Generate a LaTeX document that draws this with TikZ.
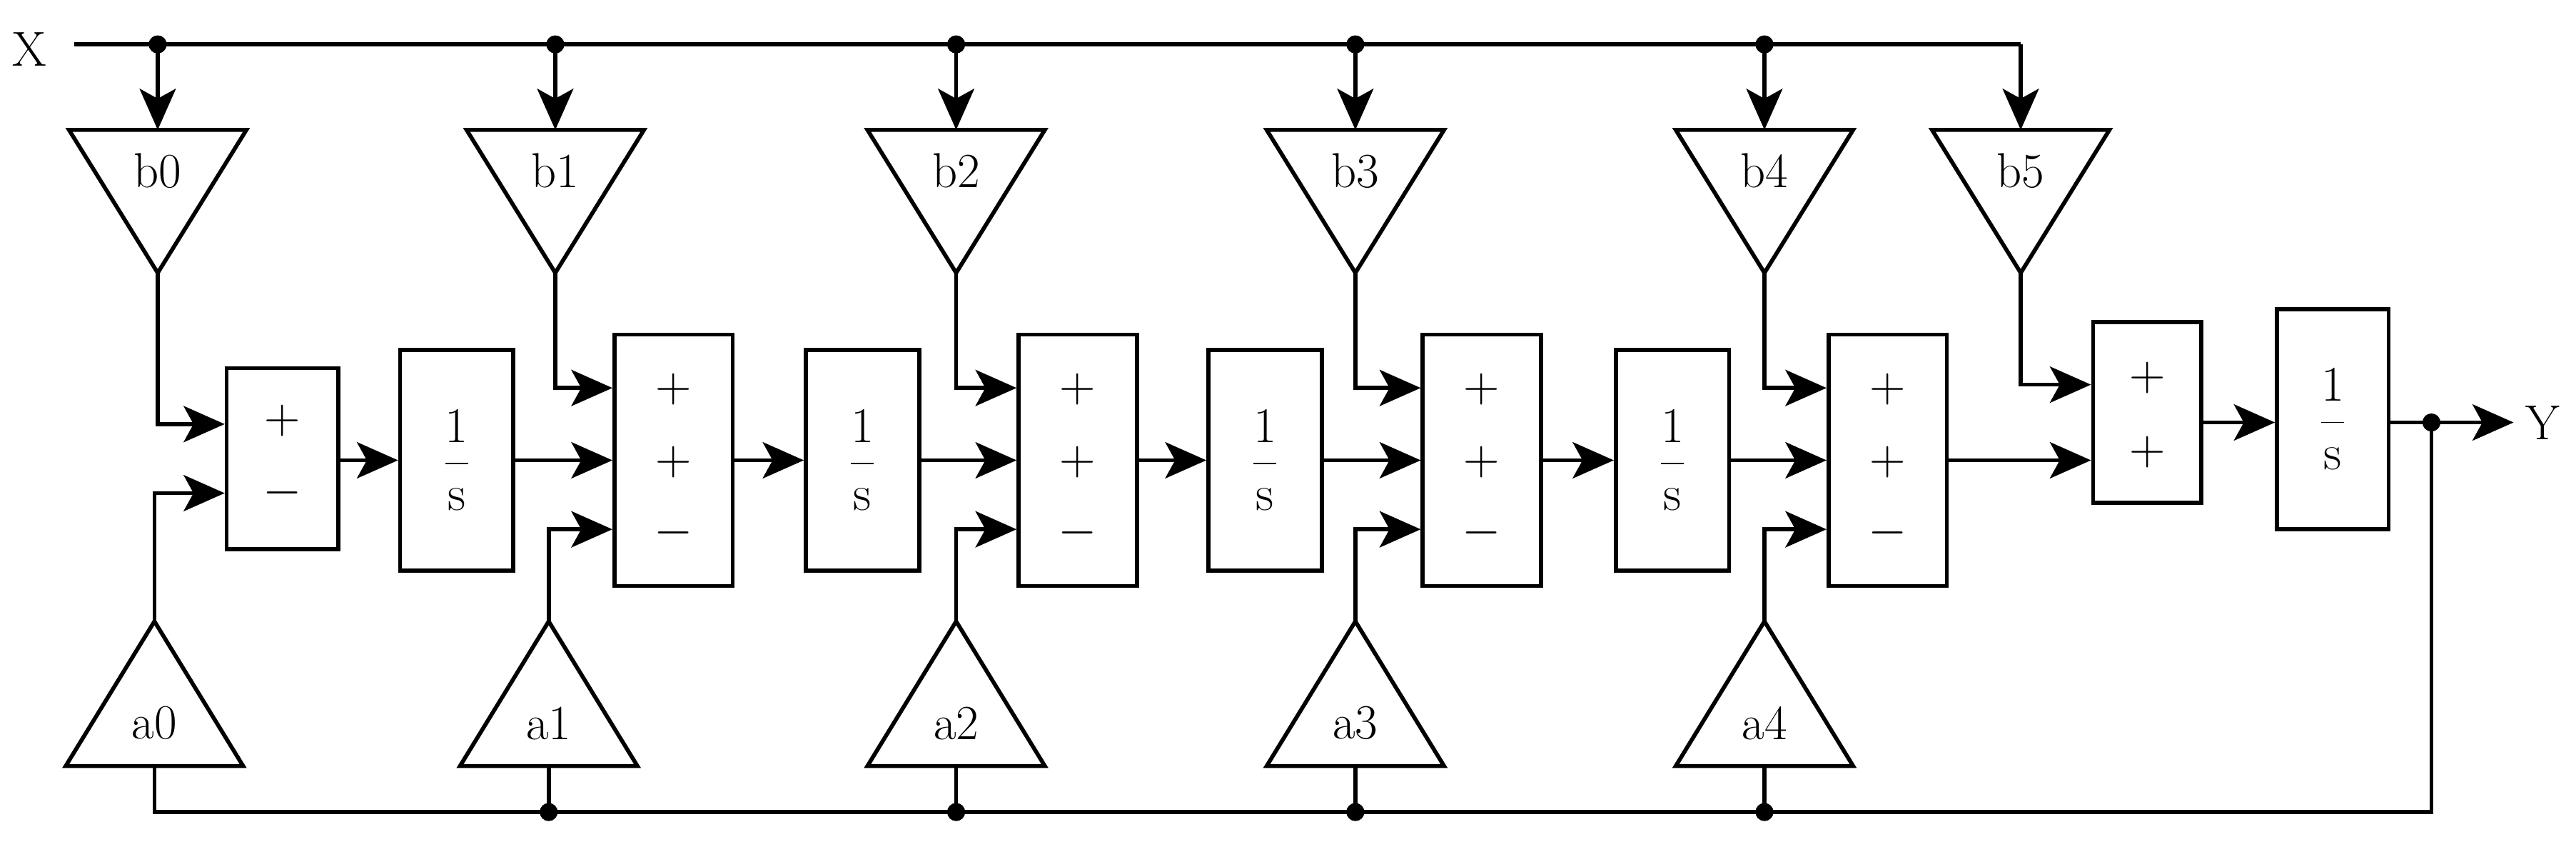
\documentclass[tikz,border=0pt]{standalone}
\usetikzlibrary{arrows.meta}
\begin{document}
\begin{tikzpicture}[x=0.02cm,y=-0.02cm,line width=1.4pt,
  arr/.style={-{Stealth[length=0.5cm,width=0.44cm,inset=0.12cm]}},
  box/.style={draw,inner sep=0pt,font=\fontsize{17}{20}\selectfont},
  lab/.style={font=\fontsize{17}{20}\selectfont,inner sep=0pt},
  dot/.style={circle,fill,inner sep=0pt,minimum size=0.22cm}]
\useasboundingbox (0,0) rectangle (1568,512);
% X line
\node[lab] (X) at (18,30) {X};
\coordinate (xs) at (45,27);
\coordinate (xe) at (1230,27);
\draw (xs) -- (xe);
% b triangles
\foreach \i/\x in {0/96,1/338,2/582,3/825,4/1074,5/1230}{
  \draw (\x-54,79) -- (\x+54,79) -- (\x,166) -- cycle;
  \coordinate (bt\i) at (\x,79);
  \coordinate (ba\i) at (\x,166);
  \coordinate (bx\i) at (\x,27);
  \node[lab] (b\i) at (\x,104) {b\i};
  \draw[arr] (bx\i) -- (bt\i);
}
\foreach \i in {0,...,4}{\node[dot] at (bx\i) {};}
% a triangles
\foreach \i/\x in {0/94,1/334,2/582,3/825,4/1074}{
  \draw (\x-54,466) -- (\x+54,466) -- (\x,378) -- cycle;
  \coordinate (aa\i) at (\x,378);
  \coordinate (ab\i) at (\x,466);
  \coordinate (af\i) at (\x,494);
  \node[lab] (a\i) at (\x,440) {a\i};
}
% sums and integrators
\node[box,minimum width=1.36cm,minimum height=2.2cm] (s1) at (172,279) {};
\node[lab] at (172,256) {$+$};
\node[lab] at (172,300) {$-$};
\foreach \i/\x in {2/410,3/656,4/902,5/1149}{
  \node[box,minimum width=1.44cm,minimum height=3.06cm] (s\i) at (\x,280) {};
  \node[lab] at (\x,237) {$+$};
  \node[lab] at (\x,281) {$+$};
  \node[lab] at (\x,324) {$-$};
}
\node[box,minimum width=1.32cm,minimum height=2.2cm] (s6) at (1307,251) {};
\node[lab] at (1307,230) {$+$};
\node[lab] at (1307,275) {$+$};
\foreach \i/\x in {1/278,2/525,3/770,4/1018}{
  \node[box,minimum width=1.38cm,minimum height=2.68cm] (i\i) at (\x,280) {$\displaystyle\frac{1}{\mathrm{s}}$};
}
\node[box,minimum width=1.36cm,minimum height=2.68cm] (i5) at (1420,255) {$\displaystyle\frac{1}{\mathrm{s}}$};
% main chain
\draw[arr] (s1.east |- 0,280) -- (i1.west |- 0,280);
\foreach \i/\j in {1/2,2/3,3/4,4/5}{
  \draw[arr] (i\i.east) -- (s\j.west |- i\i.east);
}
\foreach \i/\j in {2/2,3/3,4/4}{
  \draw[arr] (s\i.east) -- (i\j.west |- s\i.east);
}
\draw[arr] (s5.east) -- (s6.west |- 0,280);
\draw[arr] (s6.east |- 0,257) -- (i5.west |- 0,257);
% b inputs
\draw[arr] (ba0) |- (s1.west |- 0,258);
\draw[arr] (aa0) |- (s1.west |- 0,300);
\foreach \i in {1,...,4}{
  \pgfmathtruncatemacro\j{\i+1}
  \draw[arr] (ba\i) |- (s\j.west |- 0,236);
  \draw[arr] (aa\i) |- (s\j.west |- 0,322);
}
\draw[arr] (ba5) |- (s6.west |- 0,234);
% output and feedback
\coordinate (od) at (1480,257);
\coordinate (oy) at (1530,257);
\coordinate (fb) at (1480,494);
\node[lab,anchor=west] (Y) at (1536,257) {Y};
\draw[arr] (i5.east |- od) -- (oy);
\draw (od) -- (fb) -- (af0) -- (ab0);
\node[dot] at (od) {};
\foreach \i in {1,...,4}{\draw (ab\i) -- (af\i); \node[dot] at (af\i) {};}
\end{tikzpicture}
\end{document}
